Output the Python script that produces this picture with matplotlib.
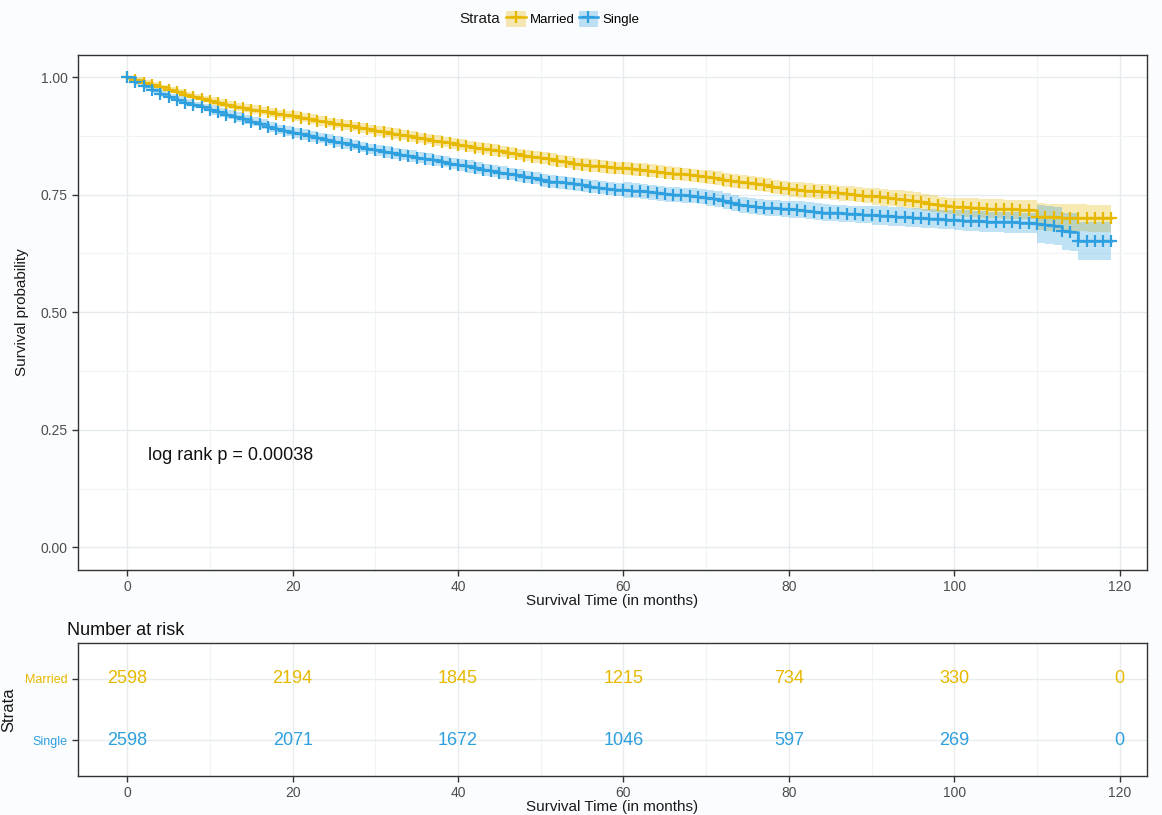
import numpy as np
import matplotlib
matplotlib.use("Agg")
import matplotlib.pyplot as plt
from matplotlib.patches import Patch
from matplotlib.lines import Line2D
from matplotlib.legend_handler import HandlerTuple

plt.rcParams['font.family'] = ['Liberation Sans', 'DejaVu Sans']

# ---------------- data ----------------
times = [0, 1, 2, 3, 4, 5, 6, 7, 8, 9, 10, 11, 12, 13, 14, 15, 16, 17, 18, 19,
         20, 21, 22, 23, 24, 25, 26, 27, 28, 29, 30, 31, 32, 33, 34, 35, 36, 37, 38, 39,
         40, 41, 42, 43, 44, 45, 46, 47, 48, 49, 50, 51, 52, 53, 54, 55, 56, 57, 58, 59,
         60, 61, 62, 63, 64, 65, 66, 67, 68, 69, 70, 71, 72, 73, 74, 75, 76, 77, 78, 79,
         80, 81, 82, 83, 84, 85, 86, 87, 88, 89, 90, 91, 92, 93, 94, 95, 96, 97, 98, 99,
         100, 101, 102, 103, 104, 105, 106, 107, 108, 109, 110, 111, 112, 113, 114, 115, 116, 117, 118, 119]

married = [1.000, 0.994, 0.988, 0.983, 0.978, 0.973, 0.968, 0.963, 0.958, 0.953,
           0.949, 0.945, 0.941, 0.937, 0.934, 0.931, 0.928, 0.925, 0.922, 0.919,
           0.917, 0.914, 0.911, 0.907, 0.904, 0.901, 0.898, 0.895, 0.892, 0.889,
           0.886, 0.883, 0.880, 0.877, 0.874, 0.871, 0.868, 0.865, 0.862, 0.859,
           0.856, 0.853, 0.850, 0.848, 0.845, 0.842, 0.839, 0.836, 0.833, 0.830,
           0.828, 0.825, 0.822, 0.819, 0.816, 0.814, 0.812, 0.810, 0.808, 0.807,
           0.806, 0.804, 0.803, 0.801, 0.799, 0.797, 0.795, 0.793, 0.791, 0.789,
           0.787, 0.785, 0.782, 0.780, 0.777, 0.775, 0.772, 0.770, 0.767, 0.764,
           0.762, 0.760, 0.758, 0.757, 0.756, 0.755, 0.753, 0.752, 0.750, 0.748,
           0.747, 0.745, 0.743, 0.741, 0.739, 0.737, 0.734, 0.731, 0.728, 0.726,
           0.724, 0.723, 0.722, 0.721, 0.720, 0.720, 0.719, 0.719, 0.718, 0.718,
           0.703, 0.702, 0.702, 0.701, 0.701, 0.701, 0.700, 0.700, 0.700, 0.700]

single = [1.000, 0.990, 0.981, 0.973, 0.965, 0.958, 0.952, 0.946, 0.941, 0.936,
          0.930, 0.925, 0.920, 0.915, 0.910, 0.905, 0.900, 0.894, 0.889, 0.885,
          0.881, 0.878, 0.874, 0.870, 0.867, 0.863, 0.859, 0.855, 0.851, 0.847,
          0.844, 0.841, 0.838, 0.835, 0.832, 0.829, 0.826, 0.823, 0.820, 0.816,
          0.813, 0.810, 0.806, 0.803, 0.800, 0.797, 0.794, 0.791, 0.788, 0.785,
          0.781, 0.778, 0.776, 0.774, 0.772, 0.770, 0.767, 0.765, 0.763, 0.761,
          0.760, 0.758, 0.757, 0.755, 0.753, 0.751, 0.750, 0.749, 0.748, 0.746,
          0.743, 0.740, 0.736, 0.732, 0.728, 0.725, 0.723, 0.722, 0.721, 0.720,
          0.719, 0.718, 0.716, 0.714, 0.712, 0.711, 0.710, 0.709, 0.708, 0.707,
          0.706, 0.705, 0.704, 0.703, 0.702, 0.701, 0.700, 0.699, 0.698, 0.697,
          0.696, 0.695, 0.694, 0.693, 0.692, 0.692, 0.691, 0.691, 0.690, 0.690,
          0.688, 0.686, 0.684, 0.672, 0.671, 0.652, 0.652, 0.652, 0.652, 0.652]

# 95% CI half-widths per 10-month block
married_hw = [0.006, 0.009, 0.010, 0.011, 0.012, 0.013, 0.014, 0.015, 0.016, 0.018, 0.020, 0.029]
single_hw = [0.007, 0.010, 0.011, 0.012, 0.013, 0.014, 0.016, 0.017, 0.018, 0.020, 0.022, 0.040]

risk_times = [0, 20, 40, 60, 80, 100, 120]
married_risk = [2598, 2194, 1845, 1215, 734, 330, 0]
single_risk = [2598, 2071, 1672, 1046, 597, 269, 0]

strata = ["Married", "Single"]
colors = {"Married": "#E7B800", "Single": "#2E9FDF"}
pvalue_text = "log rank p = 0.00038"

# ---------------- figure ----------------
W, H = 1162, 815
fig = plt.figure(figsize=(W / 100, H / 100), dpi=100, facecolor="#FBFCFE")

def fr(x0, y0, x1, y1):
    return [x0 / W, 1 - y1 / H, (x1 - x0) / W, (y1 - y0) / H]

ax = fig.add_axes(fr(78, 55, 1147, 570))
axr = fig.add_axes(fr(78, 643, 1147, 776))

t = np.array(times)
series = {"Married": (np.array(married), married_hw), "Single": (np.array(single), single_hw)}

grid_major = "#E6EBEF"
grid_minor = "#F1F4F6"
tick_col = "#4D4D4D"

for name in strata:
    est, hw = series[name]
    hwv = np.array([hw[min(int(x) // 10, len(hw) - 1)] for x in times])
    c = colors[name]
    ax.fill_between(t, est - hwv, np.minimum(est + hwv, 1.0), step="post", color=c, alpha=0.3, lw=0, zorder=2)
for name in strata:
    est, hw = series[name]
    c = colors[name]
    ax.step(t, est, where="post", color=c, lw=1.8, zorder=3)
    ax.plot(t, est, ls="none", marker="+", ms=9, mew=1.6, color=c, zorder=4)

ax.set_xlim(-5.95, 123.3)
ax.set_ylim(-0.048, 1.047)
ax.set_xticks([0, 20, 40, 60, 80, 100, 120])
ax.set_xticks([10, 30, 50, 70, 90, 110], minor=True)
ax.set_yticks([0, 0.25, 0.5, 0.75, 1.0])
ax.set_yticklabels(["0.00", "0.25", "0.50", "0.75", "1.00"])
ax.set_yticks([0.125, 0.375, 0.625, 0.875], minor=True)
ax.grid(True, which="major", color=grid_major, lw=1.0, zorder=0)
ax.grid(True, which="minor", color=grid_minor, lw=0.8, zorder=0)
ax.set_axisbelow(True)
ax.tick_params(which="minor", length=0)
ax.tick_params(which="major", length=4, width=1, colors="#333333", labelcolor=tick_col, labelsize=10)
ax.set_xlabel("Survival Time (in months)", fontsize=11, color="#1a1a1a", labelpad=0)
ax.set_ylabel("Survival probability", fontsize=11, color="#1a1a1a", labelpad=8)
for s in ax.spines.values():
    s.set_color("#333333")
    s.set_linewidth(1.0)
ax.text(2.5, 0.196, pvalue_text, fontsize=13, va="center", ha="left", color="#111111")

# legend
handles = []
for name in strata:
    handles.append((Patch(facecolor=colors[name], alpha=0.3, edgecolor="none"),
                    Line2D([], [], color=colors[name], lw=1.8, marker="+", ms=9, mew=1.6)))
fig.text(500 / W, 1 - 19 / H, "Strata", fontsize=11, va="center", ha="right", color="#1a1a1a")
fig.legend(handles, strata, handler_map={tuple: HandlerTuple(ndivide=1, pad=0)},
           loc="center left", bbox_to_anchor=(506 / W, 1 - 19 / H), ncol=2, frameon=False,
           fontsize=9.5, handlelength=1.5, handleheight=1.6, handletextpad=0.3, columnspacing=0.3,
           borderpad=0, borderaxespad=0)

# risk table
axr.set_xlim(-5.95, 123.3)
axr.set_ylim(0.41, 2.59)
for i, (name, vals) in enumerate([("Married", married_risk), ("Single", single_risk)]):
    yv = 2 - i
    for xt, v in zip(risk_times, vals):
        axr.text(xt, yv, str(v), ha="center", va="center", fontsize=13, color=colors[name])
axr.set_yticks([2, 1])
axr.set_yticklabels(strata)
axr.set_xticks([0, 20, 40, 60, 80, 100, 120])
axr.set_xticks([10, 30, 50, 70, 90, 110], minor=True)
axr.grid(True, which="major", color=grid_major, lw=1.0, zorder=0)
axr.grid(True, which="minor", axis="x", color=grid_minor, lw=0.8, zorder=0)
axr.set_axisbelow(True)
axr.tick_params(which="minor", length=0)
axr.tick_params(which="major", length=4, width=1, colors="#333333", labelcolor=tick_col, labelsize=10)
axr.tick_params(axis="y", labelsize=9)
for lbl, name in zip(axr.get_yticklabels(), strata):
    lbl.set_color(colors[name])
axr.set_xlabel("Survival Time (in months)", fontsize=11, color="#1a1a1a", labelpad=0)
axr.set_ylabel("Strata", fontsize=12, color="#1a1a1a", labelpad=6)
axr.set_title("Number at risk", loc="left", fontsize=13, color="#111111", pad=6, x=-0.01)
for s in axr.spines.values():
    s.set_color("#333333")
    s.set_linewidth(1.0)

fig.savefig("out.png", dpi=100, facecolor=fig.get_facecolor())
